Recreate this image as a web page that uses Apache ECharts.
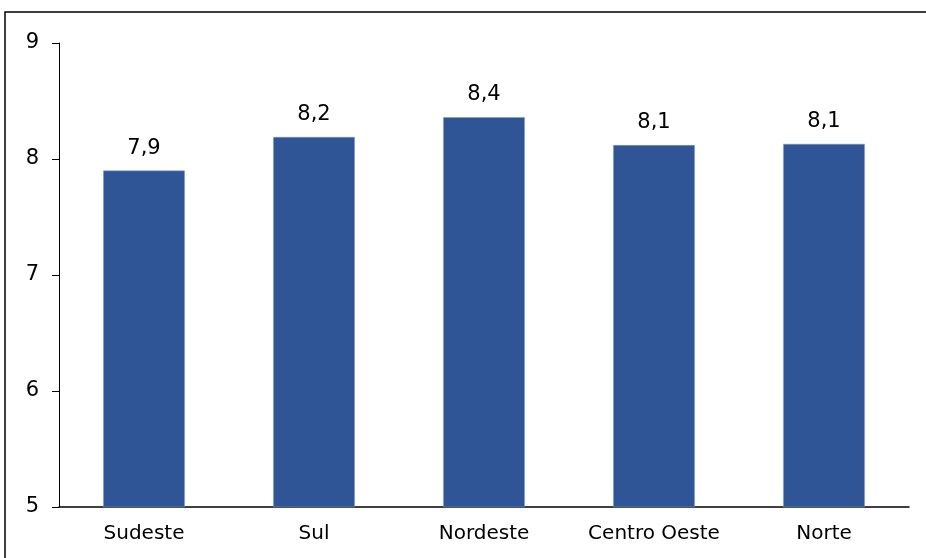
<!DOCTYPE html>
<html>
<head>
<meta charset="utf-8">
<script src="https://cdn.jsdelivr.net/npm/echarts@6/dist/echarts.min.js"></script>
<style>
html,body{margin:0;padding:0;background:#fff;}
#c{width:926px;height:558px;}
</style>
</head>
<body>
<div id="c"></div>
<script>
const categories = ['Sudeste', 'Sul', 'Nordeste', 'Centro Oeste', 'Norte'];
const values = [7.9, 8.19, 8.36, 8.12, 8.13];
const yTicks = [5, 6, 7, 8, 9];

const chart = echarts.init(document.getElementById('c'));
const font = 'DejaVu Sans, Verdana, sans-serif';
chart.setOption({
  animation: false,
  backgroundColor: '#fff',
  graphic: [{
    type: 'rect',
    shape: { x: 5, y: 12, width: 960, height: 600 },
    style: { fill: 'none', stroke: '#000', lineWidth: 1.5 },
    z: -1
  }],
  grid: { left: 59, right: 17, top: 43, bottom: 51, containLabel: false },
  xAxis: {
    type: 'category',
    data: categories,
    axisTick: { show: false },
    axisLine: { lineStyle: { color: '#000', width: 1.5 } },
    axisLabel: { color: '#000', fontSize: 20, fontFamily: font, margin: 17, interval: 0, hideOverlap: false }
  },
  yAxis: {
    type: 'value',
    min: yTicks[0],
    max: yTicks[yTicks.length - 1],
    interval: 1,
    splitLine: { show: false },
    axisLine: { show: true, lineStyle: { color: '#000', width: 1 } },
    axisTick: { show: true, length: 7, lineStyle: { color: '#000' } },
    axisLabel: { color: '#000', fontSize: 21, fontFamily: font, margin: 20 }
  },
  series: [{
    type: 'bar',
    data: values,
    barWidth: '48%',
    itemStyle: { color: '#2F5597', borderColor: '#7F9BC9', borderWidth: 0.5 },
    label: {
      show: true,
      position: 'top',
      distance: 12,
      color: '#000',
      fontSize: 21,
      fontFamily: font,
      formatter: p => p.value.toFixed(1).replace('.', ',')
    }
  }]
});
</script>
</body>
</html>
